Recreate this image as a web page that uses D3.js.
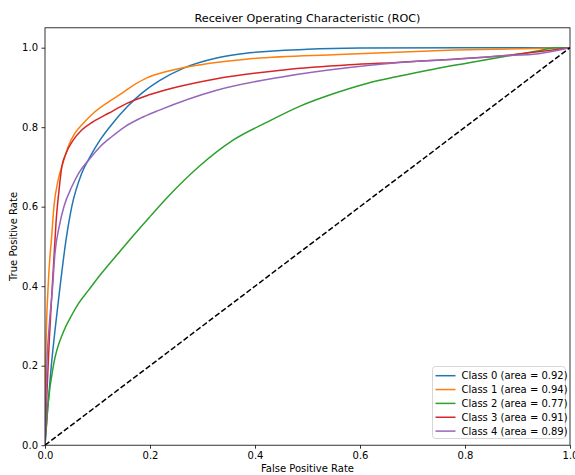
<!DOCTYPE html>
<html>
<head>
<meta charset="utf-8">
<script src="https://cdn.jsdelivr.net/npm/d3@7"></script>
<style>
  body { margin: 0; background: #fff; }
  text { font-family: "DejaVu Sans", sans-serif; fill: #000; }
</style>
</head>
<body>
<svg id="chart" width="575" height="475"></svg>
<script>
// ROC curves, one per class (one-vs-rest)
const classNames = ["Class 0", "Class 1", "Class 2", "Class 3", "Class 4"];
const aucValues = [0.92, 0.94, 0.77, 0.91, 0.89];
const classColors = ["#1f77b4", "#ff7f0e", "#2ca02c", "#d62728", "#9467bd"];

const fpr0 = [0, 0.005, 0.012, 0.02, 0.027, 0.04, 0.051, 0.07, 0.086, 0.105, 0.129, 0.157, 0.184, 0.218, 0.263, 0.327, 0.39, 0.5, 0.6, 0.8, 1];
const tpr0 = [0, 0.09, 0.2, 0.3, 0.38, 0.516, 0.6, 0.684, 0.726, 0.768, 0.81, 0.852, 0.885, 0.917, 0.948, 0.974, 0.987, 0.996, 0.999, 1, 1];

const fpr1 = [0, 0.002, 0.006, 0.013, 0.017, 0.025, 0.034, 0.044, 0.057, 0.073, 0.092, 0.117, 0.146, 0.168, 0.194, 0.218, 0.265, 0.39, 0.56, 0.78, 1];
const tpr1 = [0, 0.25, 0.4, 0.53, 0.6, 0.667, 0.709, 0.751, 0.785, 0.81, 0.835, 0.86, 0.885, 0.905, 0.924, 0.935, 0.95, 0.972, 0.983, 0.994, 1];

const fpr2 = [0, 0.006, 0.016, 0.035, 0.05, 0.063, 0.083, 0.105, 0.143, 0.168, 0.2, 0.232, 0.295, 0.359, 0.422, 0.486, 0.549, 0.613, 0.676, 0.74, 0.803, 0.867, 0.943, 0.97, 1];
const tpr2 = [0, 0.105, 0.2, 0.285, 0.325, 0.355, 0.39, 0.428, 0.488, 0.527, 0.575, 0.622, 0.703, 0.768, 0.812, 0.853, 0.884, 0.91, 0.929, 0.946, 0.961, 0.976, 0.993, 1, 1];

const fpr3 = [0, 0.004, 0.008, 0.013, 0.017, 0.021, 0.027, 0.032, 0.04, 0.054, 0.07, 0.092, 0.121, 0.156, 0.2, 0.327, 0.454, 0.58, 0.67, 0.78, 0.867, 0.94, 1];
const tpr3 = [0, 0.14, 0.26, 0.38, 0.47, 0.56, 0.645, 0.70, 0.734, 0.768, 0.793, 0.814, 0.835, 0.86, 0.882, 0.922, 0.944, 0.957, 0.963, 0.971, 0.979, 0.99, 1];

const fpr4 = [0, 0.003, 0.008, 0.014, 0.019, 0.027, 0.036, 0.051, 0.064, 0.083, 0.105, 0.127, 0.152, 0.181, 0.218, 0.327, 0.454, 0.58, 0.67, 0.78, 0.867, 0.94, 1];
const tpr4 = [0, 0.18, 0.3, 0.39, 0.483, 0.55, 0.6, 0.65, 0.684, 0.717, 0.751, 0.776, 0.801, 0.822, 0.843, 0.893, 0.927, 0.95, 0.962, 0.971, 0.979, 0.985, 1];

const fprSeries = [fpr0, fpr1, fpr2, fpr3, fpr4];
const tprSeries = [tpr0, tpr1, tpr2, tpr3, tpr4];

const xTicks = [0, 0.2, 0.4, 0.6, 0.8, 1.0];
const yTicks = [0, 0.2, 0.4, 0.6, 0.8, 1.0];

const svg = d3.select("#chart");
const plotLeft = 45, plotRight = 570, plotTop = 27.8, plotBottom = 445.2;

const x = d3.scaleLinear().domain([0, 1]).range([plotLeft, plotRight]);
const y = d3.scaleLinear().domain([0, 1.05]).range([plotBottom, plotTop]);

svg.append("defs").append("clipPath").attr("id", "plotClip")
  .append("rect").attr("x", plotLeft).attr("y", plotTop)
  .attr("width", plotRight - plotLeft).attr("height", plotBottom - plotTop);

const plot = svg.append("g").attr("clip-path", "url(#plotClip)");

const line = d3.line()
  .x(d => x(d[0]))
  .y(d => y(d[1]))
  .curve(d3.curveMonotoneX);

classNames.forEach((name, i) => {
  const pts = fprSeries[i].map((f, j) => [f, tprSeries[i][j]]);
  plot.append("path")
    .datum(pts)
    .attr("d", line)
    .attr("fill", "none")
    .attr("stroke", classColors[i])
    .attr("stroke-width", 1.5)
    .attr("stroke-linejoin", "round");
});

// chance diagonal
plot.append("path")
  .datum([[0, 0], [1, 1]])
  .attr("d", d3.line().x(d => x(d[0])).y(d => y(d[1])))
  .attr("fill", "none")
  .attr("stroke", "#000")
  .attr("stroke-width", 1.5)
  .attr("stroke-dasharray", "5.5,2.4");

// axes
const xAxis = svg.append("g")
  .attr("transform", `translate(0,${plotBottom})`)
  .call(d3.axisBottom(x).tickValues(xTicks).tickFormat(d3.format(".1f")).tickSize(3.5).tickPadding(3.5));
const yAxis = svg.append("g")
  .attr("transform", `translate(${plotLeft},0)`)
  .call(d3.axisLeft(y).tickValues(yTicks).tickFormat(d3.format(".1f")).tickSize(3.5).tickPadding(3.5));

[xAxis, yAxis].forEach(g => {
  g.select(".domain").remove();
  g.selectAll(".tick line").attr("stroke", "#000").attr("stroke-width", 0.8);
  g.selectAll(".tick text").attr("font-size", 10).attr("font-family", "DejaVu Sans, sans-serif").attr("fill", "#000");
});

// frame
svg.append("rect")
  .attr("x", plotLeft).attr("y", plotTop)
  .attr("width", plotRight - plotLeft).attr("height", plotBottom - plotTop)
  .attr("fill", "none").attr("stroke", "#000").attr("stroke-width", 0.8);

// titles
svg.append("text")
  .attr("x", (plotLeft + plotRight) / 2).attr("y", 22)
  .attr("text-anchor", "middle").attr("font-size", 11.2)
  .text("Receiver Operating Characteristic (ROC)");

svg.append("text")
  .attr("x", (plotLeft + plotRight) / 2).attr("y", 472)
  .attr("text-anchor", "middle").attr("font-size", 10)
  .text("False Positive Rate");

svg.append("text")
  .attr("transform", `translate(17,${(plotTop + plotBottom) / 2}) rotate(-90)`)
  .attr("text-anchor", "middle").attr("font-size", 10)
  .text("True Positive Rate");

// legend
const legend = svg.append("g");
legend.append("rect")
  .attr("x", 432.5).attr("y", 366.5)
  .attr("width", 133).attr("height", 72)
  .attr("rx", 3)
  .attr("fill", "#fff").attr("fill-opacity", 0.8)
  .attr("stroke", "#ccc").attr("stroke-width", 0.8);

classNames.forEach((name, i) => {
  const ly = 375.7 + i * 13.85;
  legend.append("line")
    .attr("x1", 435.5).attr("x2", 455.5)
    .attr("y1", ly).attr("y2", ly)
    .attr("stroke", classColors[i]).attr("stroke-width", 1.5);
  legend.append("text")
    .attr("x", 461.5).attr("y", ly).attr("dy", "0.35em")
    .attr("font-size", 10)
    .text(`${name} (area = ${aucValues[i].toFixed(2)})`);
});
</script>
</body>
</html>
